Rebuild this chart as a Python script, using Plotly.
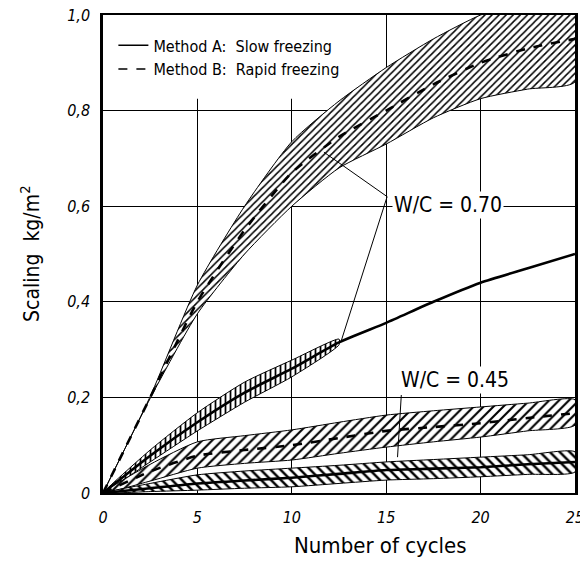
import plotly.graph_objects as go

# ---------------- data ----------------
cycles = [0, 2.5, 5, 7.5, 10, 12.5, 15, 17.5, 20, 22.5, 25]

# W/C = 0.70, Method B (rapid freezing)
wc70_b_mid = [0, 0.20, 0.40, 0.55, 0.67, 0.745, 0.80, 0.855, 0.90, 0.93, 0.95]
wc70_b_hi = [0, 0.202, 0.435, 0.60, 0.735, 0.82, 0.89, 0.95, 1.00, 1.03, 1.06]
wc70_b_lo = [0, 0.198, 0.375, 0.50, 0.60, 0.68, 0.73, 0.785, 0.825, 0.845, 0.86]

# W/C = 0.70, Method A (slow freezing)
wc70_a_mid = [0, 0.078, 0.148, 0.21, 0.26, 0.315, 0.356, 0.40, 0.44, 0.47, 0.50]
cycles_a70_band = [0, 2.5, 5, 7.5, 10, 12.5]
wc70_a_hi = [0, 0.09, 0.168, 0.232, 0.278, 0.322]
wc70_a_lo = [0, 0.065, 0.13, 0.19, 0.243, 0.31]

# W/C = 0.45, Method B (rapid freezing)
wc45_b_mid = [0, 0.045, 0.078, 0.09, 0.10, 0.115, 0.13, 0.138, 0.146, 0.157, 0.167]
wc45_b_hi = [0, 0.06, 0.107, 0.12, 0.132, 0.148, 0.163, 0.172, 0.18, 0.188, 0.195]
wc45_b_lo = [0, 0.025, 0.052, 0.062, 0.069, 0.083, 0.096, 0.107, 0.117, 0.13, 0.142]

# W/C = 0.45, Method A (slow freezing)
wc45_a_mid = [0, 0.01, 0.02, 0.026, 0.032, 0.04, 0.048, 0.051, 0.054, 0.06, 0.065]
wc45_a_hi = [0, 0.02, 0.038, 0.046, 0.052, 0.058, 0.065, 0.07, 0.075, 0.08, 0.086]
wc45_a_lo = [0, 0.003, 0.006, 0.01, 0.013, 0.02, 0.027, 0.03, 0.034, 0.039, 0.044]

x_ticks = [0, 5, 10, 15, 20, 25]
y_ticks = [0, 0.2, 0.4, 0.6, 0.8, 1.0]
y_tick_labels = ["0", "0,2", "0,4", "0,6", "0,8", "1,0"]

FONT = "Liberation Sans Narrow, DejaVu Sans Condensed, Arial Narrow, DejaVu Sans, sans-serif"

# page body has an 8px margin: figure is drawn from (8, 8)
W, H = 580, 566
ML, MR, MT, MB = 95, 13, 7, 81
PW = W - ML - MR
PH = H - MT - MB

fig = go.Figure()


def band(xs, hi, lo, shape, size, solidity):
    fig.add_trace(go.Scatter(
        x=list(xs) + list(xs)[::-1],
        y=list(hi) + list(lo)[::-1],
        fill="toself",
        fillcolor="white",
        fillpattern=dict(shape=shape, size=size, solidity=solidity,
                         fgcolor="black", bgcolor="white", fillmode="replace"),
        line=dict(color="black", width=1, shape="spline", smoothing=0.6),
        mode="lines",
        hoverinfo="skip",
        showlegend=False,
    ))


band(cycles, wc70_b_hi, wc70_b_lo, "/", 5, 0.3)
band(cycles_a70_band, wc70_a_hi, wc70_a_lo, "|", 5, 0.35)
band(cycles, wc45_b_hi, wc45_b_lo, "/", 7, 0.3)
band(cycles, wc45_a_hi, wc45_a_lo, "\\", 7, 0.35)


def center(y, dash):
    fig.add_trace(go.Scatter(
        x=cycles, y=y, mode="lines",
        line=dict(color="black", width=2.6, dash=dash, shape="spline", smoothing=0.6),
        hoverinfo="skip", showlegend=False,
    ))


center(wc70_b_mid, "dash")
center(wc70_a_mid, "solid")
center(wc45_b_mid, "dash")
center(wc45_a_mid, "solid")

# legend entries
fig.add_trace(go.Scatter(x=[None], y=[None], mode="lines",
                         line=dict(color="black", width=1.5),
                         name="Method A:  Slow freezing"))
fig.add_trace(go.Scatter(x=[None], y=[None], mode="lines",
                         line=dict(color="black", width=1.5, dash="dash"),
                         name="Method B:  Rapid freezing"))

shapes = [
    # white area behind legend (hides grid)
    dict(type="rect", xref="x", yref="y", x0=0, x1=13.6, y0=0.825, y1=1.0,
         fillcolor="white", line=dict(width=0), layer="between"),
    # leader lines for W/C = 0.70
    dict(type="line", xref="x", yref="y", x0=15.05, y0=0.62, x1=11.7, y1=0.713,
         line=dict(color="black", width=1)),
    dict(type="line", xref="x", yref="y", x0=15.05, y0=0.62, x1=12.6, y1=0.316,
         line=dict(color="black", width=1)),
    # leader line for W/C = 0.45
    dict(type="line", xref="x", yref="y", x0=15.8, y0=0.205, x1=15.6, y1=0.075,
         line=dict(color="black", width=1)),
]

annotations = [
    dict(text="W/C = 0.70", x=15.3, y=0.602, xref="x", yref="y", xanchor="left",
         yanchor="middle", showarrow=False, bgcolor="white",
         font=dict(size=21, color="black", family=FONT)),
    dict(text="W/C = 0.45", x=15.7, y=0.237, xref="x", yref="y", xanchor="left",
         yanchor="middle", showarrow=False, bgcolor="white",
         font=dict(size=21, color="black", family=FONT)),
    dict(text="Number of cycles", x=(380 - 103) / PW, y=-(545 - 493) / PH, xref="paper",
         yref="paper", xanchor="center", yanchor="middle", showarrow=False,
         font=dict(size=22, color="black", family=FONT)),
    dict(text="Scaling  kg/m<sup>2</sup>", x=(30 - 103) / PW, y=0.5, xref="paper",
         yref="paper", xanchor="center", yanchor="middle", textangle=-90,
         showarrow=False, font=dict(size=21, color="black", family=FONT)),
]

fig.update_layout(
    width=W, height=H,
    margin=dict(l=ML, r=MR, t=MT, b=MB, autoexpand=False),
    paper_bgcolor="white", plot_bgcolor="white",
    shapes=shapes, annotations=annotations,
    legend=dict(x=0.022, y=0.972, xanchor="left", yanchor="top",
                bgcolor="rgba(0,0,0,0)", borderwidth=0,
                font=dict(size=16, color="black", family=FONT),
                itemwidth=30, tracegroupgap=2),
    showlegend=True,
)

fig.update_xaxes(range=[0, 25], tickmode="array", tickvals=x_ticks,
                 showgrid=True, gridcolor="black", gridwidth=1, automargin=False,
                 zeroline=False, showline=True, linecolor="black", linewidth=2,
                 mirror=True, ticks="", ticklabelstandoff=9, ticklabeloverflow="allow",
                 tickfont=dict(size=16, color="black", family=FONT, style="italic"))
fig.update_yaxes(range=[0, 1.0], tickmode="array", tickvals=y_ticks,
                 ticktext=y_tick_labels, automargin=False,
                 showgrid=True, gridcolor="black", gridwidth=1,
                 zeroline=False, showline=True, linecolor="black", linewidth=2.5,
                 mirror=True, ticks="", ticklabelstandoff=7, ticklabeloverflow="allow",
                 tickfont=dict(size=16, color="black", family=FONT, style="italic"))

fig.write_html("out.html")
